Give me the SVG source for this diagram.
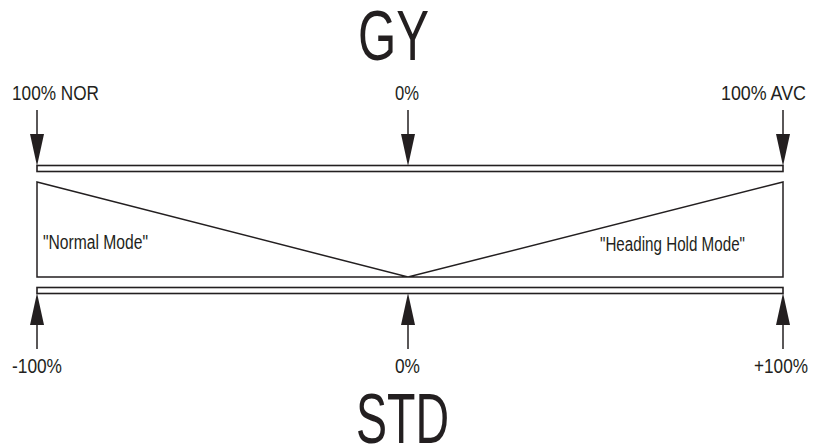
<svg xmlns="http://www.w3.org/2000/svg" width="818" height="447" viewBox="0 0 818 447">
<defs>
<style>
.ln{stroke:#231f20;stroke-width:1.5;fill:none}
.bar{stroke:#231f20;stroke-width:1.6;fill:#fff}
.ah{fill:#231f20;stroke:none}
.t{font-family:"Liberation Sans",Arial,sans-serif;font-size:20px;fill:#231f20}
.big{font-family:"Liberation Sans",Arial,sans-serif;font-size:71px;fill:#231f20}
</style>
<polygon id="ahDown" class="ah" points="-7,-32 7,-32 0,0"/>
<polygon id="ahUp" class="ah" points="-7,32 7,32 0,0"/>
</defs>
<rect width="818" height="447" fill="#fff"/>
<g id="title-gy"><text class="big" x="358" y="60" textLength="71" lengthAdjust="spacingAndGlyphs">GY</text></g>
<g id="title-std"><text class="big" x="356" y="443" textLength="93" lengthAdjust="spacingAndGlyphs">STD</text></g>
<g id="top-bar"><rect class="bar" x="37" y="165.5" width="746" height="6"/></g>
<g id="bottom-bar"><rect class="bar" x="37" y="287.5" width="746" height="6"/></g>
<g id="mode-shape"><path class="ln" d="M37,182 L37,277 L783,277 L783,182 L408,277 Z"/>
<text class="t" x="43" y="249" textLength="105" lengthAdjust="spacingAndGlyphs">"Normal Mode"</text>
<text class="t" x="600" y="251" textLength="145" lengthAdjust="spacingAndGlyphs">"Heading Hold Mode"</text></g>
<g id="connectors">
<line class="ln" x1="37" y1="110" x2="37" y2="140"/><use href="#ahDown" x="37" y="166"/>
<line class="ln" x1="408" y1="110" x2="408" y2="140"/><use href="#ahDown" x="408" y="166"/>
<line class="ln" x1="783" y1="110" x2="783" y2="140"/><use href="#ahDown" x="783" y="166"/>
<line class="ln" x1="37" y1="320" x2="37" y2="349"/><use href="#ahUp" x="37" y="293"/>
<line class="ln" x1="408" y1="320" x2="408" y2="349"/><use href="#ahUp" x="408" y="293"/>
<line class="ln" x1="783" y1="320" x2="783" y2="349"/><use href="#ahUp" x="783" y="293"/>
</g>
<g id="label-nor"><text class="t" x="12" y="100" textLength="87" lengthAdjust="spacingAndGlyphs">100% NOR</text></g>
<g id="label-top-0"><text class="t" x="395" y="100" textLength="24" lengthAdjust="spacingAndGlyphs">0%</text></g>
<g id="label-avc"><text class="t" x="721" y="100" textLength="85" lengthAdjust="spacingAndGlyphs">100% AVC</text></g>
<g id="label-m100"><text class="t" x="12" y="373" textLength="50" lengthAdjust="spacingAndGlyphs">-100%</text></g>
<g id="label-bot-0"><text class="t" x="395" y="373" textLength="25" lengthAdjust="spacingAndGlyphs">0%</text></g>
<g id="label-p100"><text class="t" x="754" y="373" textLength="54" lengthAdjust="spacingAndGlyphs">+100%</text></g>
</svg>
